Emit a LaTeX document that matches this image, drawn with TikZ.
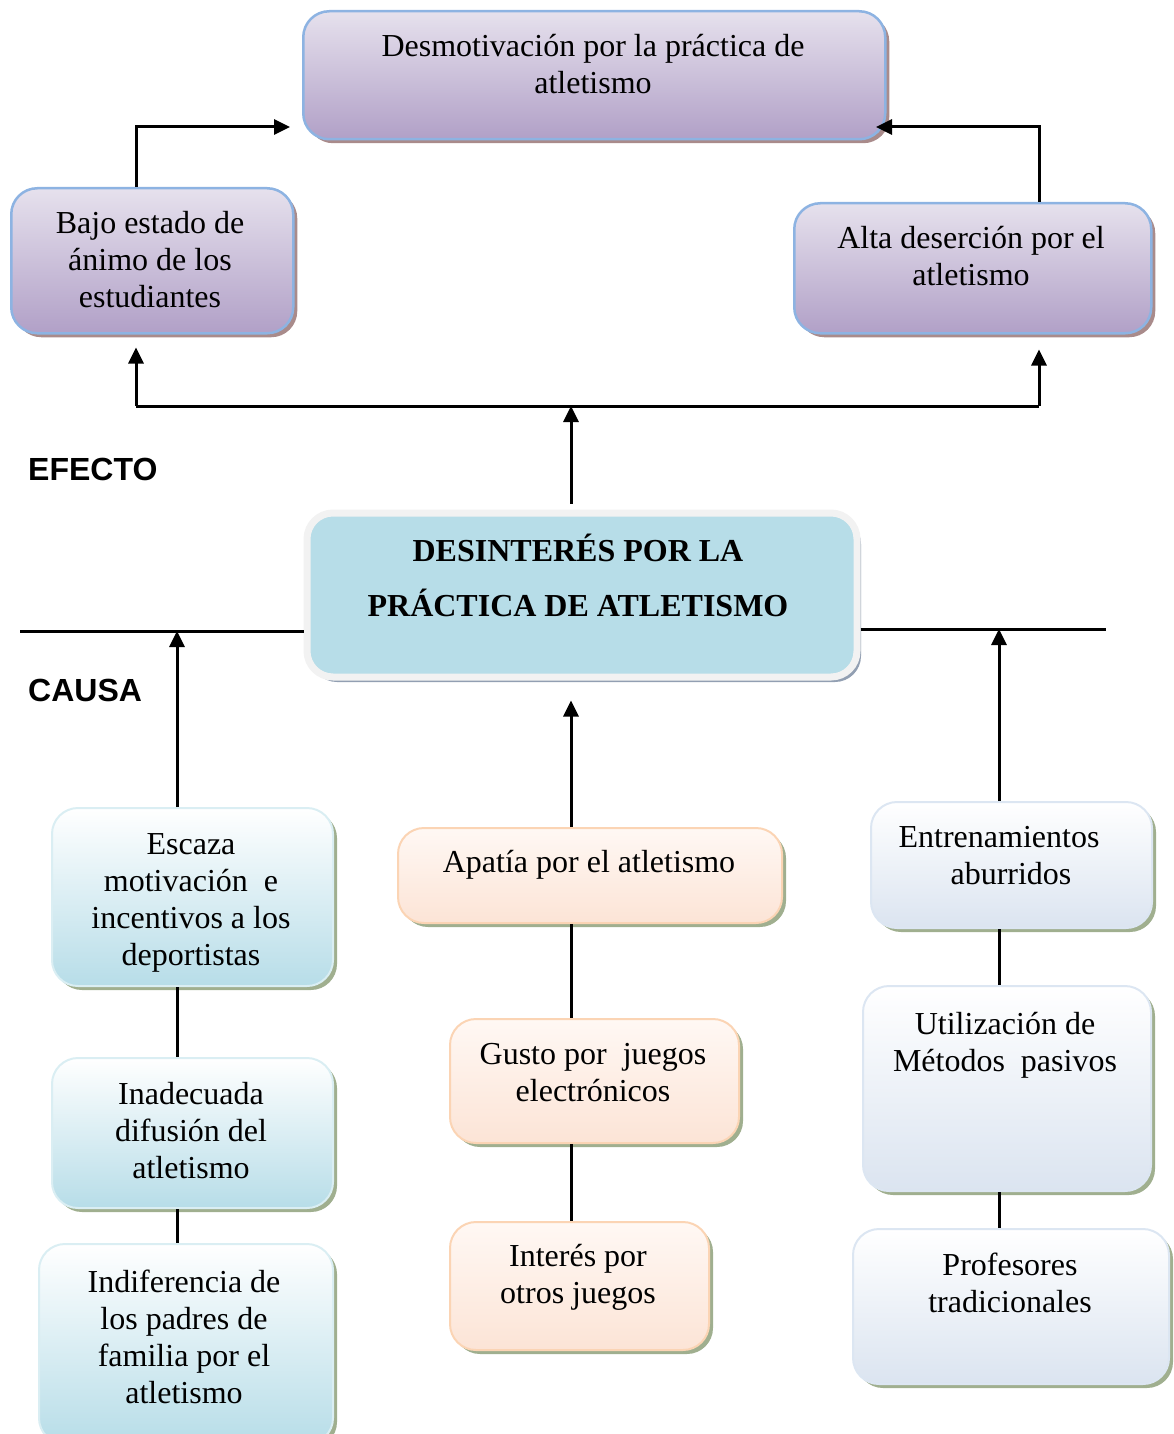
\documentclass[tikz,border=0pt]{standalone}
\usepackage{fontspec}
\setmainfont{Liberation Serif}
\newfontfamily\rotulofont{Liberation Sans}
\usetikzlibrary{arrows.meta}
\usetikzlibrary{shadows}
\usepackage{xcolor}

\definecolor{lilatop}{HTML}{E6E1ED}
\definecolor{lilabot}{HTML}{B1A0C7}
\definecolor{lilaedge}{HTML}{8DB3E2}
\definecolor{lilashadow}{HTML}{A98B8B}
\definecolor{centrofill}{HTML}{B7DDE8}
\definecolor{centroedge}{HTML}{F2F2F2}
\definecolor{centroshadow}{HTML}{929FB2}
\definecolor{aguabot}{HTML}{B7DDE8}
\definecolor{aguaedge}{HTML}{DAEEF3}
\definecolor{duraztop}{HTML}{FFF8F4}
\definecolor{durazbot}{HTML}{FCE4D6}
\definecolor{durazedge}{HTML}{FBD4B4}
\definecolor{grisbot}{HTML}{DBE4F0}
\definecolor{grisedge}{HTML}{DCE6F2}
\definecolor{verdeshadow}{HTML}{A0AF8F}

\begin{document}
\begin{tikzpicture}[x=1pt, y=-1pt]
        % ================= 样式定义 =================
        \tikzset{
            % 盒子公共样式
            caja/.style={rounded corners=26pt, anchor=north west, inner sep=0pt},
            % 效果:紫色
            efecto/.style={caja, draw=lilaedge, line width=2.5pt, top color=lilatop, bottom color=lilabot,
                drop shadow={shadow xshift=4pt, shadow yshift=-4pt, fill=lilashadow, opacity=1}},
            % 中心问题
            centro/.style={caja, draw=centroedge, line width=7pt, fill=centrofill,
                drop shadow={shadow xshift=4pt, shadow yshift=-5pt, fill=centroshadow, opacity=1}},
            % 原因:三种颜色
            causaA/.style={caja, draw=aguaedge, line width=2pt, top color=white, bottom color=aguabot,
                drop shadow={shadow xshift=4pt, shadow yshift=-4pt, fill=verdeshadow, opacity=1}},
            causaB/.style={caja, draw=durazedge, line width=2pt, top color=duraztop, bottom color=durazbot,
                drop shadow={shadow xshift=4pt, shadow yshift=-4pt, fill=verdeshadow, opacity=1}},
            causaC/.style={caja, draw=grisedge, line width=2pt, top color=white, bottom color=grisbot,
                drop shadow={shadow xshift=4pt, shadow yshift=-4pt, fill=verdeshadow, opacity=1}},
            % 文字
            texto/.style={align=center, inner sep=0pt, font=\fontsize{32}{37}\selectfont},
            rotulo/.style={anchor=west, inner sep=0pt, font=\rotulofont\bfseries\fontsize{32}{37}\selectfont},
            % 连线
            linea/.style={line width=3pt, black},
            flecha/.style={linea, -{Triangle[width=15pt, length=16pt]}}
        }

        \useasboundingbox (0,0) rectangle (1173,1434);

        % ================= 1. 效果 =================
        \node[efecto, minimum width=582pt, minimum height=128pt] (desm) at (302,10) {};
        \node[texto] (desm-t) at (593,64) {Desmotivación por la práctica de\\atletismo};

        \node[efecto, minimum width=282pt, minimum height=145pt] (bajo) at (10,187) {};
        \node[texto] (bajo-t) at (150,260) {Bajo estado de\\ánimo de los\\estudiantes};

        \node[efecto, minimum width=357pt, minimum height=130pt] (alta) at (793,202) {};
        \node[texto] (alta-t) at (971,256) {Alta deserción por el\\atletismo};

        % ================= 2. 中心问题 =================
        \node[centro, minimum width=550pt, minimum height=164pt] (centro) at (303.5,509.5) {};
        \node[texto, font=\bfseries\fontsize{32}{55}\selectfont] (centro-t) at (578,575)
            {DESINTERÉS POR LA\\PRÁCTICA DE ATLETISMO};

        \node[rotulo] (efecto) at (28,469) {EFECTO};
        \node[rotulo] (causa) at (28,690) {CAUSA};

        % ================= 3. 原因 =================
        % 左列
        \node[causaA, minimum width=281pt, minimum height=178pt] (escaza) at (51,807) {};
        \node[texto] (escaza-t) at (191,903) {Escaza\\motivación\ \ e\\incentivos a los\\deportistas};
        \node[causaA, minimum width=281pt, minimum height=150pt] (inadec) at (51,1057) {};
        \node[texto] (inadec-t) at (191,1131) {Inadecuada\\difusión del\\atletismo};
        \node[causaA, minimum width=294pt, minimum height=200pt] (indif) at (38,1243) {};
        \node[texto] (indif-t) at (184,1337) {Indiferencia de\\los padres de\\familia por el\\atletismo};

        % 中列
        \node[causaB, minimum width=384pt, minimum height=95pt] (apatia) at (397,827) {};
        \node[texto] (apatia-t) at (589,865) {Apatía por el atletismo};
        \node[causaB, minimum width=289pt, minimum height=124pt] (gusto) at (449,1018) {};
        \node[texto] (gusto-t) at (593,1073) {Gusto por\ \ juegos\\electrónicos};
        \node[causaB, minimum width=259pt, minimum height=128pt] (interes) at (449,1221) {};
        \node[texto] (interes-t) at (578,1277) {Interés por\\otros juegos};

        % 右列
        \node[causaC, minimum width=281pt, minimum height=126pt] (entren) at (870,801) {};
        \node[texto] (entren-t) at (999,856) {Entrenamientos\\\ \ \ aburridos};
        \node[causaC, minimum width=288pt, minimum height=205pt] (utiliz) at (862,985) {};
        \node[texto] (utiliz-t) at (1005,1045) {Utilización de\\Métodos\ \ pasivos};
        \node[causaC, minimum width=316pt, minimum height=155pt] (profes) at (852,1228) {};
        \node[texto] (profes-t) at (1010,1283) {Profesores\\tradicionales};

        % ================= 4. 连线 =================
        \coordinate (ejeIzq) at (136,406);
        \coordinate (ejeCen) at (571,406);
        \coordinate (ejeDer) at (1039,406);
        \coordinate (entIzq) at (290,127);
        \coordinate (entDer) at (876,127);
        \coordinate (limIzq) at (20,631);
        \coordinate (limDer) at (1106,629);
        \coordinate (causaIzq) at (177,631);
        \coordinate (causaDer) at (999,629);

        % --- 效果 ---
        \draw[flecha] ([yshift=6pt]centro.north -| ejeCen) -- (ejeCen);
        \draw[linea] (ejeIzq) -- (ejeDer);
        \draw[flecha] (ejeIzq) -- ([yshift=-13pt]bajo.south -| ejeIzq);
        \draw[flecha] (ejeDer) -- ([yshift=-15pt]alta.south -| ejeDer);
        \draw[flecha] (bajo.north -| ejeIzq) |- (entIzq);
        \draw[flecha] (alta.north -| ejeDer) |- (entDer);

        % --- 原因 ---
        \draw[linea] (limIzq) -- (centro.west |- limIzq);
        \draw[linea] (centro.east |- limDer) -- (limDer);
        \draw[flecha] (escaza.north -| causaIzq) -- (causaIzq);
        \draw[flecha] (apatia.north -| ejeCen) -- ([yshift=-20pt]centro.south -| ejeCen);
        \draw[flecha] (entren.north -| causaDer) -- (causaDer);

        \draw[linea] (escaza.south -| causaIzq) -- (inadec.north -| causaIzq);
        \draw[linea] (inadec.south -| causaIzq) -- (indif.north -| causaIzq);
        \draw[linea] (apatia.south -| ejeCen) -- (gusto.north -| ejeCen);
        \draw[linea] (gusto.south -| ejeCen) -- (interes.north -| ejeCen);
        \draw[linea] (entren.south -| causaDer) -- (utiliz.north -| causaDer);
        \draw[linea] (utiliz.south -| causaDer) -- (profes.north -| causaDer);

    \end{tikzpicture}
\end{document}
